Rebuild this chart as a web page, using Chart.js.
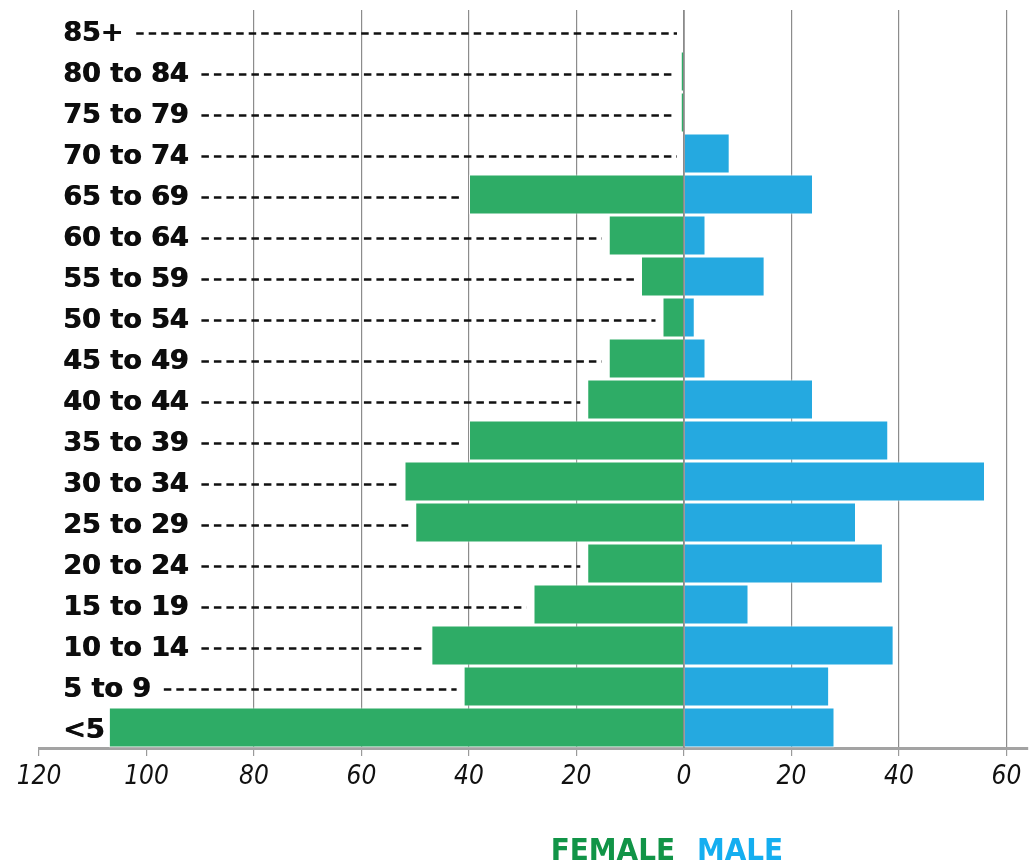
<!DOCTYPE html>
<html>
<head>
<meta charset="utf-8">
<script src="https://cdn.jsdelivr.net/npm/chart.js@4"></script>
<style>
  html, body { margin: 0; padding: 0; background: #fff; }
  #wrap { width: 1029px; height: 862px; }
</style>
</head>
<body>
<div id="wrap"><canvas id="pyramid"></canvas></div>
<script>
const ageGroups = ['85+', '80 to 84', '75 to 79', '70 to 74', '65 to 69', '60 to 64', '55 to 59',
  '50 to 54', '45 to 49', '40 to 44', '35 to 39', '30 to 34', '25 to 29', '20 to 24',
  '15 to 19', '10 to 14', '5 to 9', '<5'];
const female = [0, 0.6, 0.6, 0, 40, 14, 8, 4, 14, 18, 40, 52, 50, 18, 28, 47, 41, 107];
const male = [0, 0, 0, 8.5, 24, 4, 15, 2, 4, 24, 38, 56, 32, 37, 12, 39, 27, 28];
const xTicks = [-120, -100, -80, -60, -40, -20, 0, 20, 40, 60];

const GREEN = '#2eac66';
const BLUE = '#25a9e0';

// row labels + dashed leaders, drawn over the plot area
const rowLabels = {
  id: 'rowLabels',
  afterDatasetsDraw(chart) {
    const { ctx, scales: { x, y }, chartArea } = chart;
    const zero = x.getPixelForValue(0);
    ctx.save();
    // zero line over bars
    ctx.strokeStyle = '#8a8a8a';
    ctx.lineWidth = 1.5;
    ctx.beginPath();
    ctx.moveTo(zero, chartArea.top);
    ctx.lineTo(zero, chartArea.bottom);
    ctx.stroke();

    ctx.font = 'bold 27px "DejaVu Sans"';
    ctx.textBaseline = 'middle';
    ctx.fillStyle = '#0d0d0d';
    ageGroups.forEach((lab, i) => {
      const cy = y.getPixelForValue(i) + 3;
      // fake extra weight
      ctx.fillText(lab, 63, cy);
      ctx.fillText(lab, 63.8, cy);
      const start = 63 + ctx.measureText(lab).width + 13;
      const end = (female[i] > 0.3 ? x.getPixelForValue(-female[i]) : zero) - 7;
      if (end > start) {
        ctx.save();
        ctx.strokeStyle = '#111';
        ctx.lineWidth = 2.6;
        ctx.setLineDash([7.5, 5]);
        ctx.beginPath();
        ctx.moveTo(start, cy);
        ctx.lineTo(end, cy);
        ctx.stroke();
        ctx.restore();
      }
    });

    // legend words
    ctx.font = 'bold 31px "DejaVu Sans Condensed"';
    ctx.textBaseline = 'alphabetic';
    ctx.textAlign = 'right';
    ctx.fillStyle = '#119447';
    ctx.fillText(chart.data.datasets[0].label, zero - 9, 860);
    ctx.textAlign = 'left';
    ctx.fillStyle = '#14aef0';
    ctx.fillText(chart.data.datasets[1].label, zero + 13, 860);
    ctx.restore();
  }
};

new Chart(document.getElementById('pyramid'), {
  type: 'bar',
  data: {
    labels: ageGroups,
    datasets: [
      {
        label: 'FEMALE',
        data: female.map(v => -v),
        backgroundColor: GREEN,
        borderColor: 'rgba(255,255,255,0.7)',
        borderWidth: 1,
      },
      {
        label: 'MALE',
        data: male,
        backgroundColor: BLUE,
        borderColor: 'rgba(255,255,255,0.7)',
        borderWidth: 1,
      },
    ],
  },
  options: {
    indexAxis: 'y',
    responsive: true,
    maintainAspectRatio: false,
    animation: false,
    layout: { padding: { top: 10, left: 39, right: 1, bottom: 0 } },
    datasets: {
      bar: { categoryPercentage: 1, barPercentage: 0.97 },
    },
    plugins: {
      legend: { display: false },
      tooltip: { enabled: false },
    },
    scales: {
      x: {
        stacked: true,
        min: -120,
        max: 64,
        afterBuildTicks: s => { s.ticks = xTicks.map(v => ({ value: v })); },
        afterFit: s => { s.height = 114; },
        grid: {
          color: c => (c.tick && c.tick.value < -80 ? 'rgba(0,0,0,0)' : '#8c8c8c'),
          lineWidth: 1.2,
          tickColor: '#9a9a9a',
          tickLength: 8,
        },
        border: { color: '#a3a3a3', width: 3 },
        ticks: {
          color: '#111',
          padding: 6,
          font: { family: '"DejaVu Sans Condensed"', size: 26, style: 'italic' },
          callback: v => Math.abs(v),
        },
      },
      y: {
        stacked: true,
        display: false,
      },
    },
  },
  plugins: [rowLabels],
});
</script>
</body>
</html>
